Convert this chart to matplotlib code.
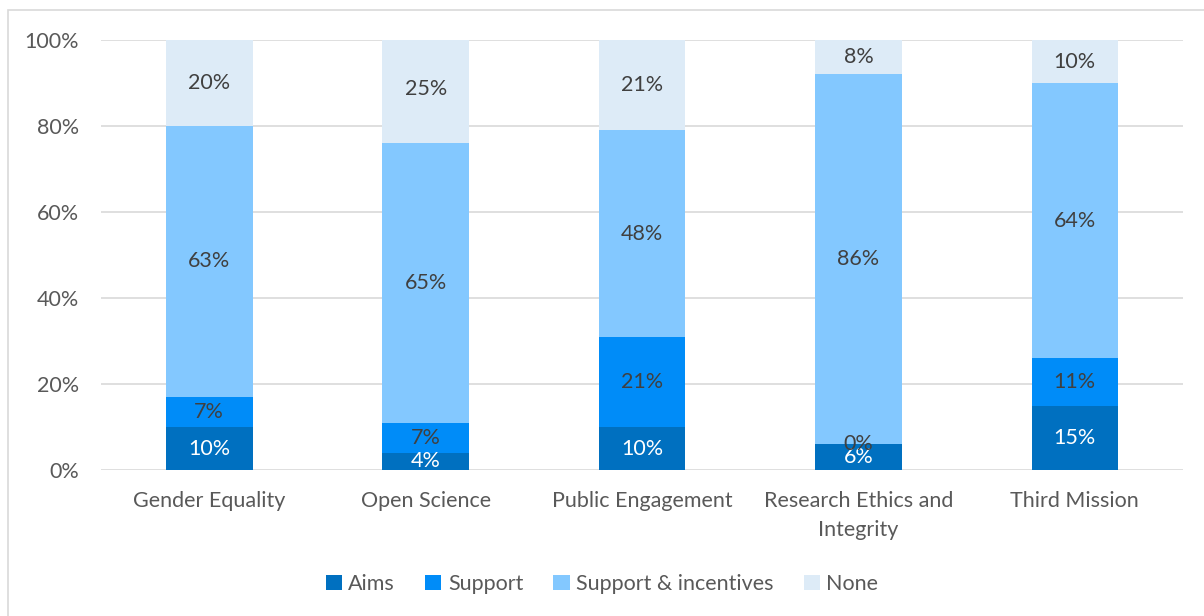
import matplotlib.pyplot as plt
import numpy as np
from matplotlib.patches import Rectangle

plt.rcParams['font.family'] = ['Lato', 'DejaVu Sans']

categories = ['Gender Equality', 'Open Science', 'Public Engagement',
              'Research Ethics and\nIntegrity', 'Third Mission']
aims = [10, 4, 10, 6, 15]
support = [7, 7, 21, 0, 11]
incentives = [63, 65, 48, 86, 64]
none = [20, 25, 21, 8, 10]

series = [('Aims', aims, '#0070C0', 'white'),
          ('Support', support, '#008CF8', '#404040'),
          ('Support & incentives', incentives, '#83C8FF', '#404040'),
          ('None', none, '#DDEBF7', '#404040')]

fig = plt.figure(figsize=(12.04, 6.16), dpi=100)
ax = fig.add_axes([0.0839, 0.237, 0.8987, 0.698])

x = np.arange(len(categories))
bottom = np.zeros(len(categories))
for name, vals, color, tcolor in series:
    vals = np.array(vals, dtype=float)
    ax.bar(x, vals, 0.4, bottom=bottom, color=color, label=name, zorder=2)
    for xi, b, v in zip(x, bottom, vals):
        ax.text(xi, b + v / 2, f'{v:.0f}%', ha='center', va='center',
                fontsize=15.5, color=tcolor, zorder=3)
    bottom += vals

ax.set_xlim(-0.5, len(categories) - 0.5)
ax.set_ylim(0, 100)
ax.set_yticks(range(0, 101, 20))
ax.set_yticklabels([f'{v}%' for v in range(0, 101, 20)])
ax.set_xticks(x)
ax.set_xticklabels(categories, linespacing=1.55)
ax.tick_params(length=0, labelsize=15.5, colors='#595959')
ax.tick_params(axis='x', pad=15)
ax.tick_params(axis='y', pad=16)
ax.grid(axis='y', color='#D9D9D9', linewidth=1.2, zorder=0)
for s in ax.spines.values():
    s.set_visible(False)

fig.legend(loc='center', bbox_to_anchor=(0.5, 1 - 584 / 616), ncol=4,
           frameon=False, fontsize=15.5, handlelength=0.75, handleheight=0.75,
           handletextpad=0.3, columnspacing=1.4, labelcolor='#595959')

# light frame round the chart area
fig.patches.append(Rectangle((8 / 1204, -0.1), 1.2, 1 - 10 / 616 + 0.1,
                             transform=fig.transFigure, fill=False,
                             edgecolor='#D9D9D9', linewidth=1.2))

fig.savefig('out.png', dpi=100)
